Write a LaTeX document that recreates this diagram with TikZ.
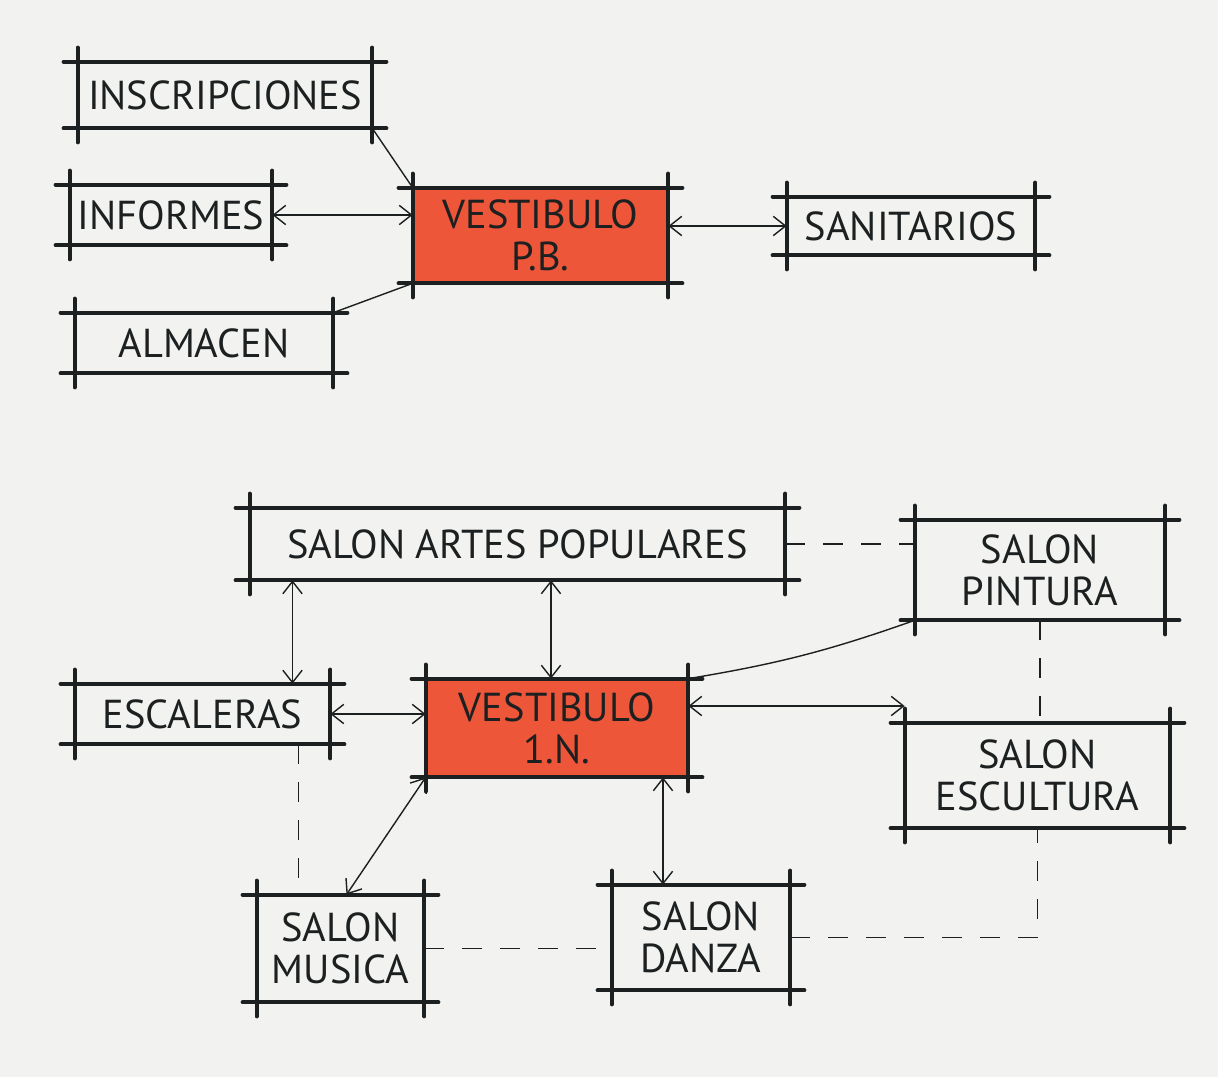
\documentclass[tikz,border=0pt]{standalone}
\usepackage{fontspec}
\setmainfont{PT Sans}
\usetikzlibrary{arrows.meta,calc}
\newdimen\px \px=0.02cm
\definecolor{paper}{RGB}{242,242,240}
\definecolor{ink}{RGB}{28,32,32}
\definecolor{marker}{RGB}{238,86,58}
\tikzset{
 room/.style={inner sep=0pt, align=center, font=\fontsize{23}{24}\selectfont, text=ink},
 hot/.style={room, fill=marker},
 frame/.style={draw=ink, line width=2.3pt, line cap=round, shorten <=-14\px, shorten >=-14\px},
 link/.style={draw=ink, line width=0.8pt},
 twoway/.style={link, {Straight Barb[length=7pt,width=11pt]}-{Straight Barb[length=7pt,width=11pt]}},
 dashlink/.style={link, dash pattern=on 20\px off 18\px},
}
\newcommand\frm[1]{%
 \draw[frame] (#1.north west) -- (#1.north east);
 \draw[frame] (#1.south west) -- (#1.south east);
 \draw[frame] (#1.north west) -- (#1.south west);
 \draw[frame] (#1.north east) -- (#1.south east);}
\begin{document}
\begin{tikzpicture}[x=0.02cm,y=-0.02cm]
\fill[paper] (0,0) rectangle (1218,1077);
\useasboundingbox (0,0) rectangle (1218,1077);

% ground floor
\node[room, minimum width=294\px, minimum height=66\px] (insc) at (225,95) {INSCRIPCIONES};
\node[room, minimum width=202\px, minimum height=60\px] (inf) at (171,215) {INFORMES};
\node[room, minimum width=258\px, minimum height=60\px] (alm) at (204,343) {ALMACEN};
\node[hot, minimum width=255\px, minimum height=95\px] (vpb) at (540.5,235.5) {VESTIBULO\\P.B.};
\node[room, minimum width=248\px, minimum height=58\px] (san) at (911,226) {SANITARIOS};

% first level
\node[room, minimum width=535\px, minimum height=72\px] (sap) at (517.5,544) {SALON ARTES POPULARES};
\node[room, minimum width=250\px, minimum height=100\px] (pin) at (1040,570) {SALON\\PINTURA};
\node[room, minimum width=255\px, minimum height=60\px] (esc) at (202.5,714) {ESCALERAS};
\node[hot, minimum width=262\px, minimum height=98\px] (vin) at (557,728) {VESTIBULO\\1.N.};
\node[room, minimum width=265\px, minimum height=105\px] (escu) at (1037.5,775.5) {SALON\\ESCULTURA};
\node[room, minimum width=167\px, minimum height=107\px] (mus) at (340.5,948.5) {SALON\\MUSICA};
\node[room, minimum width=178\px, minimum height=105\px] (dan) at (701,937.5) {SALON\\DANZA};

\foreach \n in {insc,inf,alm,vpb,san,sap,pin,esc,vin,escu,mus,dan}{\frm{\n}}

% connectors, ground floor
\draw[link] (insc.south east) -- (vpb.north west);
\draw[twoway] (inf.east) -- (inf.east -| vpb.west);
\draw[link] (alm.north east) -- (vpb.south west);
\draw[twoway] (san.west -| vpb.east) -- (san.west);

% connectors, first level
\draw[twoway] ([xshift=90\px]esc.north) -- ([xshift=90\px]esc.north |- sap.south);
\draw[twoway] ([xshift=-6\px]vin.north) -- ([xshift=-6\px]vin.north |- sap.south);
\draw[dashlink] (sap.east) -- (sap.east -| pin.west);
\draw[link] (pin.south west) to[bend left=5] (vin.north east);
\draw[dashlink] (pin.south) -- (pin.south |- escu.north);
\draw[twoway] (esc.east) -- (esc.east -| vin.west);
\draw[twoway] ([yshift=22\px]vin.east) -- ([yshift=22\px]vin.east -| escu.west);
\draw[twoway] (vin.south west) -- ([xshift=6\px]mus.north);
\draw[twoway] ([xshift=106\px]vin.south) -- ([xshift=106\px]vin.south |- dan.north);
\draw[dashlink] ([xshift=96\px]esc.south) -- ([xshift=96\px]esc.south |- mus.north);
\draw[dashlink] (mus.east) -- (mus.east -| dan.west);
\draw[dashlink] (dan.east) -- (dan.east -| escu.south) -- (escu.south);
\end{tikzpicture}
\end{document}
